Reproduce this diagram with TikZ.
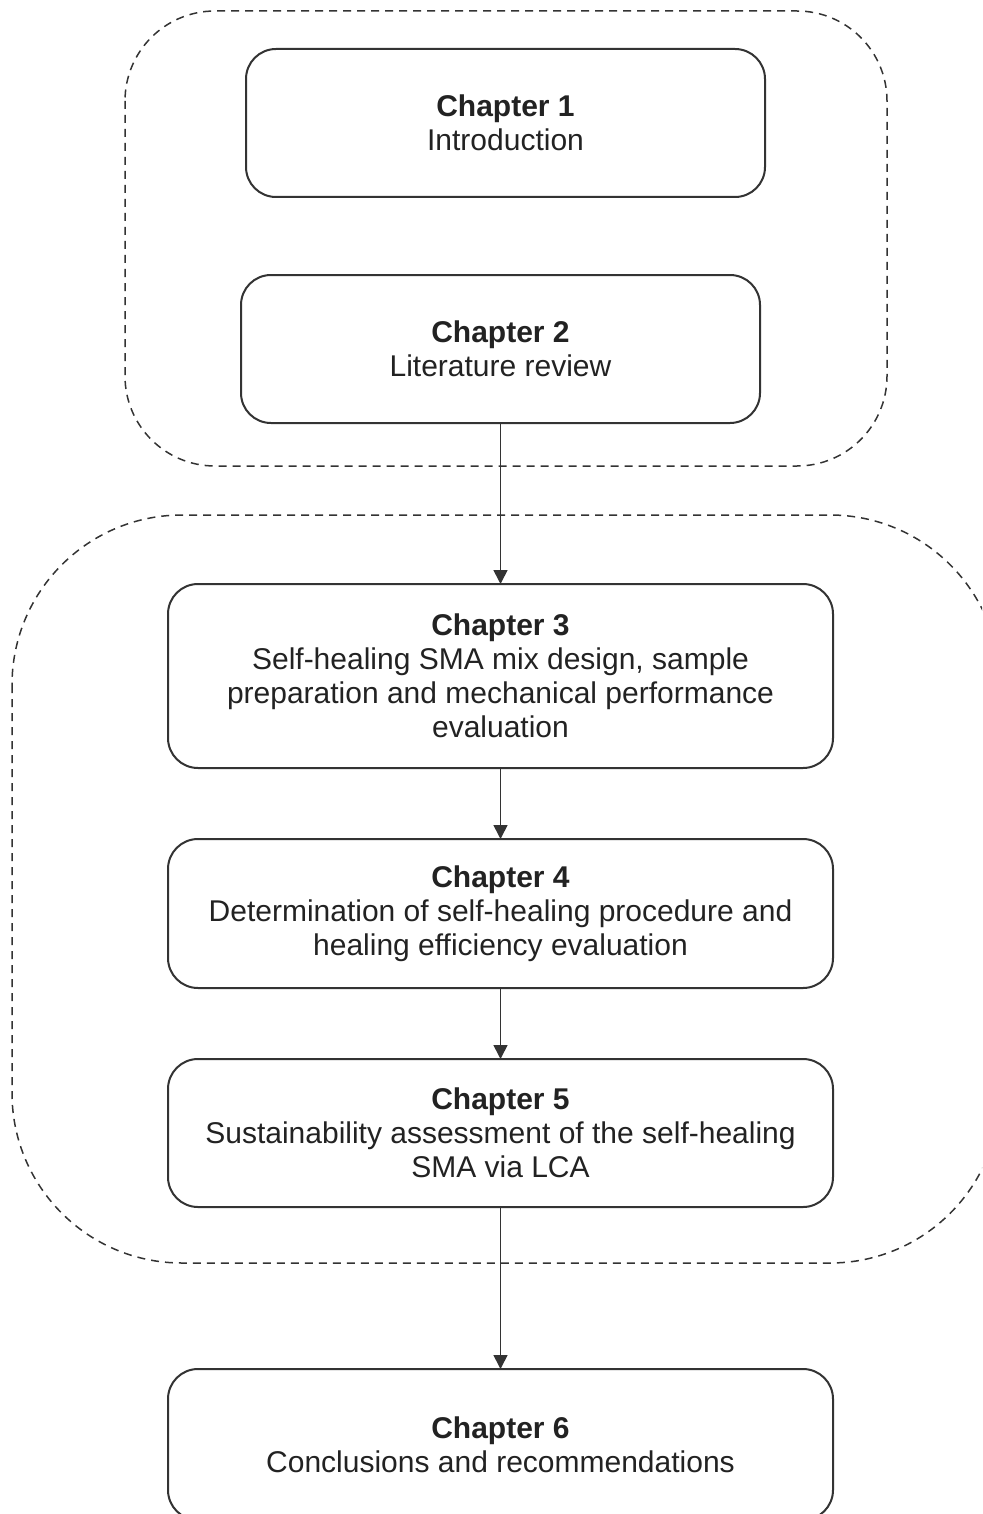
\documentclass[tikz,border=0pt]{standalone}
\usepackage{fontspec}
\setmainfont{Liberation Sans}
\usetikzlibrary{arrows.meta}
\definecolor{ink}{HTML}{333333}
\definecolor{txt}{HTML}{222222}
\begin{document}
\begin{tikzpicture}[x=0.5pt,y=-0.5pt,
  chap/.style={draw=ink, line width=1pt, rounded corners=15pt, align=center,
    inner sep=0pt, outer sep=0pt, text=txt,
    font=\fontsize{15pt}{17pt}\selectfont},
  group/.style={draw=ink, line width=0.75pt, dash pattern=on 4pt off 3pt},
  flow/.style={draw=ink, line width=0.8pt, -{Triangle[length=7pt,width=7pt]}}]
\useasboundingbox (0,0) rectangle (982,1514);
\clip (0,0) rectangle (982,1514);
% groups
\draw[group, rounded corners=45pt] (125,11) rectangle (887,466);
\draw[group, rounded corners=85pt] (12,515) rectangle (1000,1263);
% chapters
\node[chap, minimum width=259.5pt, minimum height=74pt] (c1) at (505.5,123)
  {{\bfseries Chapter 1}\\Introduction};
\node[chap, minimum width=259.5pt, minimum height=74pt] (c2) at (500.5,349)
  {{\bfseries Chapter 2}\\Literature review};
\node[chap, minimum width=332.5pt, minimum height=92pt] (c3) at (500.5,676)
  {{\bfseries Chapter 3}\\Self-healing SMA mix design, sample\\preparation and mechanical performance\\evaluation};
\node[chap, minimum width=332.5pt, minimum height=74.5pt] (c4) at (500.5,913.5)
  {{\bfseries Chapter 4}\\Determination of self-healing procedure and\\healing efficiency evaluation};
\node[chap, minimum width=332.5pt, minimum height=74pt] (c5) at (500.5,1133)
  {{\bfseries Chapter 5}\\Sustainability assessment of the self-healing\\SMA via LCA};
\node[chap, minimum width=332.5pt, minimum height=75.5pt] (c6) at (500.5,1444.5)
  {{\bfseries Chapter 6}\\Conclusions and recommendations};
% connectors
\draw[flow] (c2) -- (c3);
\draw[flow] (c3) -- (c4);
\draw[flow] (c4) -- (c5);
\draw[flow] (c5) -- (c6);
\end{tikzpicture}
\end{document}
